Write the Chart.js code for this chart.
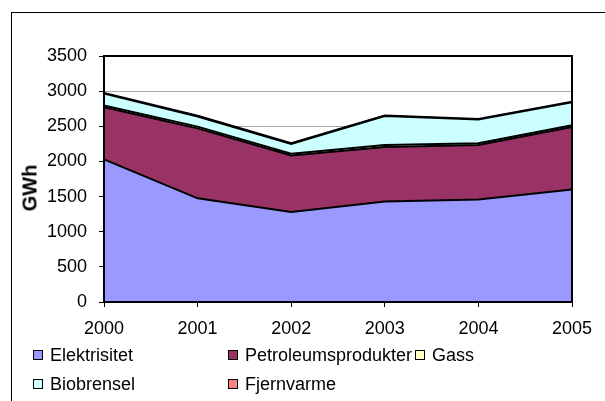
<!DOCTYPE html>
<html>
<head>
<meta charset="utf-8">
<script src="https://cdn.jsdelivr.net/npm/chart.js@4"></script>
<style>
  body { margin: 0; width: 605px; height: 401px; overflow: hidden; background: #fff; font-family: "Liberation Sans", Arial, sans-serif; }
  #frame { position: absolute; left: 11px; top: 12px; width: 700px; height: 500px; border: 1px solid #000; }
  #myChart { position: absolute; left: 0; top: 0; }
  #ytitle { position: absolute; left: 30px; top: 188px; font-size: 20px; font-weight: bold; transform: translate(-50%, -50%) rotate(-90deg); white-space: nowrap; }
  .leg { position: absolute; font-size: 18px; color: #000; white-space: nowrap; line-height: 20px; }
  .leg span { display: inline-block; width: 8px; height: 8px; border: 1px solid #000; margin-right: 7px; vertical-align: 1px; }
</style>
</head>
<body>
<div id="frame"></div>
<canvas id="myChart" width="605" height="401"></canvas>
<div id="ytitle">GWh</div>
<div id="legend"></div>
<script>
const years = ['2000', '2001', '2002', '2003', '2004', '2005'];
const elektrisitet = [2030, 1475, 1280, 1430, 1460, 1600];
const petroleumsprodukter = [740, 995, 805, 775, 775, 890];
const gass = [25, 25, 25, 30, 25, 25];
const biobrensel = [170, 145, 140, 410, 335, 325];
const fjernvarme = [10, 10, 10, 10, 10, 10];
const yTicks = [0, 500, 1000, 1500, 2000, 2500, 3000, 3500];

const series = [
    { label: 'Elektrisitet', data: elektrisitet, color: '#9999FF' },
    { label: 'Petroleumsprodukter', data: petroleumsprodukter, color: '#993366' },
    { label: 'Gass', data: gass, color: '#FFFFCC' },
    { label: 'Biobrensel', data: biobrensel, color: '#CCFFFF' },
    { label: 'Fjernvarme', data: fjernvarme, color: '#FF8080' }
];

// legend positions (two rows, like the excel one)
const legendSlots = [[33, 345], [228, 345], [415, 345], [33, 374], [228, 374]];

const font = "'Liberation Sans', Arial, sans-serif";

// black frame round the plot area
const plotBorder = {
    id: 'plotBorder',
    afterDatasetsDraw(chart) {
        const { ctx, chartArea } = chart;
        ctx.save();
        ctx.strokeStyle = '#000';
        ctx.lineWidth = 2;
        ctx.strokeRect(chartArea.left, chartArea.top, chartArea.right - chartArea.left, chartArea.bottom - chartArea.top);
        ctx.restore();
    }
};

function buildLegend() {
    const box = document.querySelector('#legend');
    series.forEach((s, i) => {
        const el = document.createElement('div');
        el.className = 'leg';
        el.style.left = legendSlots[i][0] + 'px';
        el.style.top = legendSlots[i][1] + 'px';
        const sq = document.createElement('span');
        sq.style.background = s.color;
        el.append(sq);
        el.append(s.label);
        box.appendChild(el);
    });
}

const ctx = document.getElementById('myChart').getContext('2d');

new Chart(ctx, {
    type: 'line',
    data: {
        labels: years,
        datasets: series.map((s, i) => ({
            label: s.label,
            data: s.data,
            backgroundColor: s.color,
            borderColor: '#000',
            borderWidth: 2,
            pointRadius: 0,
            tension: 0,
            fill: i === 0 ? 'origin' : '-1'
        }))
    },
    options: {
        responsive: false,
        animation: false,
        devicePixelRatio: 1,
        layout: {
            padding: { left: 0, top: 56, right: 33, bottom: 0 }
        },
        plugins: {
            legend: { display: false },
            tooltip: { enabled: false }
        },
        scales: {
            x: {
                offset: false,
                grid: {
                    drawOnChartArea: false,
                    tickLength: 5,
                    tickColor: '#000'
                },
                border: { color: '#000', width: 2 },
                ticks: {
                    color: '#000',
                    padding: 11,
                    maxRotation: 0,
                    autoSkip: false,
                    font: { family: font, size: 18 }
                },
                afterFit: (scale) => { scale.height = 99; }
            },
            y: {
                stacked: true,
                min: 0,
                max: 3500,
                afterBuildTicks: (scale) => { scale.ticks = yTicks.map((v) => ({ value: v })); },
                grid: {
                    color: '#a6a6a6',
                    tickLength: 5,
                    tickColor: '#000'
                },
                border: { color: '#000', width: 2 },
                ticks: {
                    color: '#000',
                    padding: 12,
                    font: { family: font, size: 18 },
                    callback: (v) => String(v)
                },
                afterFit: (scale) => { scale.width = 104; }
            }
        }
    },
    plugins: [plotBorder]
});

buildLegend();
</script>
</body>
</html>
